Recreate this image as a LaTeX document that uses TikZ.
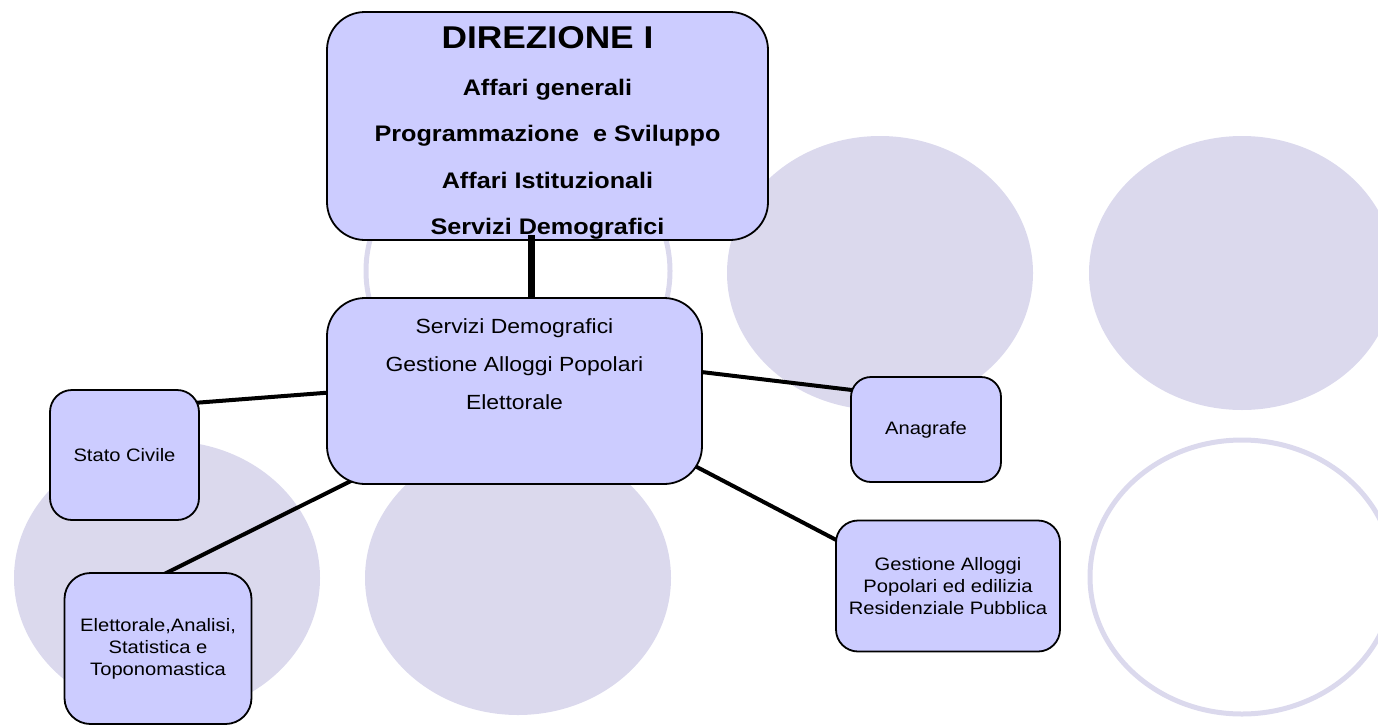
\documentclass[tikz,border=0pt]{standalone}
\usepackage{fontspec}
\setmainfont{Liberation Sans}[FakeStretch=1.12]
\usepackage{xcolor}
\usepackage{tikz}
\usetikzlibrary{backgrounds}

\definecolor{boxfill}{RGB}{204,204,255}
\definecolor{discfill}{RGB}{219,217,237}

\tikzset{
  ufficio/.style={draw=black, line width=1.8pt, fill=boxfill, rounded corners=#1, inner sep=0pt},
  ufficio/.default=22pt,
  legame/.style={line width=4pt},
  tronco/.style={line width=7pt},
  disco/.style={fill=discfill},
  anello/.style={draw=discfill, line width=5pt},
  piccolo/.style={font=\fontsize{18}{22}\selectfont, align=center},
}

\begin{document}
\begin{tikzpicture}[x=1pt, y=-1pt]
    \useasboundingbox (0,0) rectangle (1378,726);

    \node[ufficio=38pt, minimum width=441pt, minimum height=228pt] (dir) at (547.5,126) {};
    \node[font=\bfseries\fontsize{22.5}{46.5}\selectfont, align=center, anchor=north, inner sep=0pt]
        (dirtesto) at (547.5,26.5) {{\fontsize{31.5}{46}\selectfont DIREZIONE I}\\
        Affari generali\\ Programmazione\ \ e Sviluppo\\ Affari Istituzionali\\ Servizi Demografici};

    \node[ufficio=38pt, minimum width=375pt, minimum height=186pt] (demo) at (514.5,391) {};
    \node[font=\fontsize{20.5}{38}\selectfont, align=center, anchor=north, inner sep=0pt]
        (demotesto) at (514.5,318.5) {Servizi Demografici\\ Gestione Alloggi Popolari\\ Elettorale};

    \node[ufficio, piccolo, minimum width=149pt, minimum height=130pt] (civile) at (124.5,455) {Stato Civile};
    \node[ufficio=26pt, piccolo, minimum width=187pt, minimum height=151pt] (elet) at (158,648.5)
        {Elettorale,Analisi,\\ Statistica e\\ Toponomastica};
    \node[ufficio=20pt, piccolo, minimum width=150pt, minimum height=105pt] (anag) at (926,429.5) {Anagrafe};
    \node[ufficio, piccolo, minimum width=224pt, minimum height=131pt] (alloggi) at (948,586)
        {Gestione Alloggi\\ Popolari ed edilizia\\ Residenziale Pubblica};

    \begin{pgfonlayer}{background}
        \fill[disco] (167,578) ellipse [x radius=153, y radius=137];
        \fill[disco] (518,578) ellipse [x radius=153, y radius=137];
        \fill[disco] (880,273) ellipse [x radius=153, y radius=137];
        \fill[disco] (1242,273) ellipse [x radius=153, y radius=137];
        \draw[anello] (518,271) ellipse [x radius=152, y radius=135];
        \draw[anello] (1242,577) ellipse [x radius=152, y radius=137];

        \draw[legame] ([xshift=-8pt,yshift=-14pt]civile.north east) -- ([xshift=10pt,yshift=-1pt]demo.west);
        \draw[legame] ([xshift=27pt,yshift=5pt]demo.south west) -- ([yshift=-5pt]elet.north);
        \draw[legame] ([xshift=-10pt,yshift=20pt]demo.east) -- ([xshift=11pt,yshift=-15pt]anag.north west);
        \draw[legame] ([xshift=-12pt,yshift=21pt]demo.south east) -- ([xshift=10pt,yshift=-25pt]alloggi.north west);
    \end{pgfonlayer}

    \draw[tronco] ([xshift=-16.5pt,yshift=6pt]dir.south) -- ([xshift=16.5pt]demo.north);
\end{tikzpicture}
\end{document}
